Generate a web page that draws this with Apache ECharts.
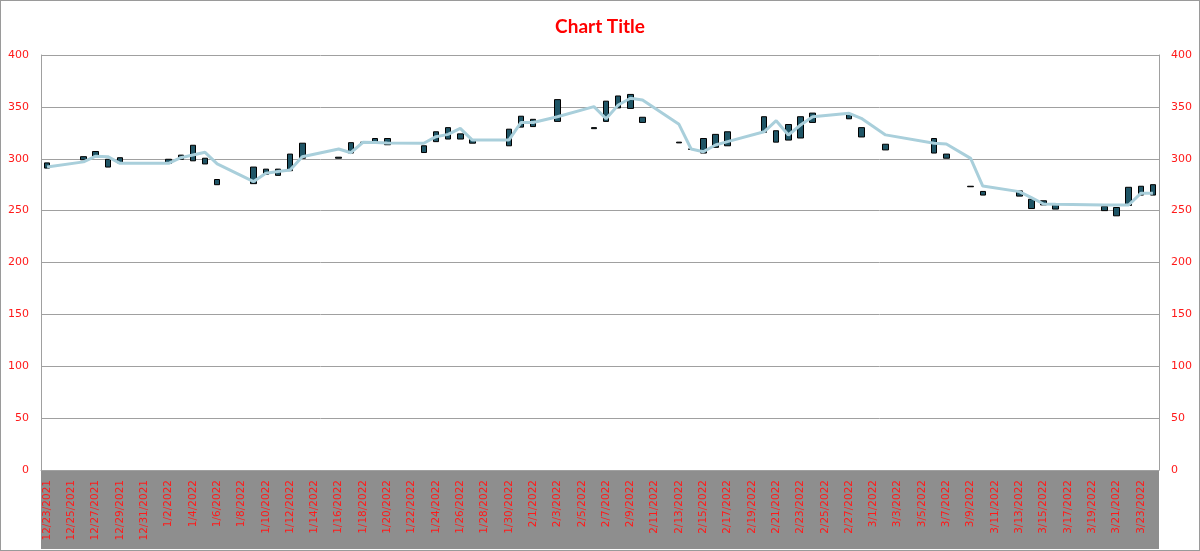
<!DOCTYPE html>
<html>
<head>
<meta charset="utf-8">
<script src="https://cdn.jsdelivr.net/npm/echarts@6/dist/echarts.min.js"></script>
<style>
  html, body { margin: 0; padding: 0; background: #fff; }
  #wrap { position: relative; width: 1200px; height: 551px; }
  #band { position: absolute; left: 41px; top: 470px; width: 1118px; height: 79px; background: #8E8E8E; }
  #frame { position: absolute; left: 0; top: 0; width: 1198px; height: 549px; border: 1px solid #9a9a9a; }
  #chart { position: absolute; left: 0; top: 0; width: 1200px; height: 551px; }
</style>
</head>
<body>
<div id="wrap">
  <div id="band"></div>
  <div id="frame"></div>
  <div id="chart"></div>
</div>
<script>
// Category axis: every calendar day
const categories = [
  '12/23/2021','12/24/2021','12/25/2021','12/26/2021','12/27/2021','12/28/2021','12/29/2021','12/30/2021','12/31/2021',
  '1/1/2022','1/2/2022','1/3/2022','1/4/2022','1/5/2022','1/6/2022','1/7/2022','1/8/2022','1/9/2022','1/10/2022',
  '1/11/2022','1/12/2022','1/13/2022','1/14/2022','1/15/2022','1/16/2022','1/17/2022','1/18/2022','1/19/2022','1/20/2022',
  '1/21/2022','1/22/2022','1/23/2022','1/24/2022','1/25/2022','1/26/2022','1/27/2022','1/28/2022','1/29/2022','1/30/2022','1/31/2022',
  '2/1/2022','2/2/2022','2/3/2022','2/4/2022','2/5/2022','2/6/2022','2/7/2022','2/8/2022','2/9/2022','2/10/2022',
  '2/11/2022','2/12/2022','2/13/2022','2/14/2022','2/15/2022','2/16/2022','2/17/2022','2/18/2022','2/19/2022','2/20/2022',
  '2/21/2022','2/22/2022','2/23/2022','2/24/2022','2/25/2022','2/26/2022','2/27/2022','2/28/2022',
  '3/1/2022','3/2/2022','3/3/2022','3/4/2022','3/5/2022','3/6/2022','3/7/2022','3/8/2022','3/9/2022','3/10/2022',
  '3/11/2022','3/12/2022','3/13/2022','3/14/2022','3/15/2022','3/16/2022','3/17/2022','3/18/2022','3/19/2022','3/20/2022',
  '3/21/2022','3/22/2022','3/23/2022','3/24/2022'
];

// Trading days with data
const tradeDates = [
  '12/23/2021','12/26/2021','12/27/2021','12/28/2021','12/29/2021',
  '1/2/2022','1/3/2022','1/4/2022','1/5/2022','1/6/2022',
  '1/9/2022','1/10/2022','1/11/2022','1/12/2022','1/13/2022',
  '1/16/2022','1/17/2022','1/18/2022','1/19/2022','1/20/2022',
  '1/23/2022','1/24/2022','1/25/2022','1/26/2022','1/27/2022',
  '1/30/2022','1/31/2022','2/1/2022','2/3/2022',
  '2/6/2022','2/7/2022','2/8/2022','2/9/2022','2/10/2022',
  '2/13/2022','2/14/2022','2/15/2022','2/16/2022','2/17/2022',
  '2/20/2022','2/21/2022','2/22/2022','2/23/2022','2/24/2022',
  '2/27/2022','2/28/2022','3/2/2022',
  '3/6/2022','3/7/2022','3/9/2022','3/10/2022',
  '3/13/2022','3/14/2022','3/15/2022','3/16/2022',
  '3/20/2022','3/21/2022','3/22/2022','3/23/2022','3/24/2022'
];

const openVals = [
  291, 299, 302, 299.5, 301,
  295.5, 299.5, 298, 300.5, 280,
  276, 285, 284, 288.5, 300.5,
  301.5, 305.5, 315, 315, 319.5,
  312.5, 316.5, 319, 324, 318.5,
  312.5, 330.5, 338, 336,
  330, 336, 349, 348.5, 340,
  316, 309.5, 305.5, 311, 312.5,
  325.5, 327, 318, 320, 335,
  343, 330, 314,
  319.5, 304.5, 273.5, 268.5,
  269, 261, 259.5, 255.5,
  254, 253, 255, 265, 265
];

const closeVals = [
  296, 302, 307, 292, 296,
  299.5, 303.5, 313, 295, 275,
  292, 290, 290, 304.5, 315,
  300.5, 315.5, 316, 319.5, 313.5,
  306, 326, 330, 319, 315,
  328.5, 341, 331, 357,
  329, 355.5, 360.5, 362, 335,
  315.3, 309, 319.5, 323.5, 326,
  340.5, 316, 333, 340.5, 344,
  338.5, 321, 308.5,
  305.5, 300.5, 273, 265,
  264, 252, 255.5, 251.5,
  250, 245, 272.5, 273.5, 275
];

// Trend line (moving average) values at each trading day
const lineVals = [
  292, 297, 302.5, 302, 295.6,
  295.6, 301, 303.6, 306.2, 295,
  278, 286, 287.7, 289.2, 302,
  309.4, 305.8, 315.9, 315.7, 315.2,
  314.9, 321.3, 323.5, 329.3, 318,
  318, 335, 335, 340.5,
  350.2, 338.5, 351.8, 358.3, 356.6,
  333.2, 309.4, 306.8, 313.3, 316.5,
  326, 336.7, 322.9, 332.5, 340.5,
  343.8, 339, 323,
  315, 314.2, 300.4, 273.7,
  268.3, 262.5, 256.4, 256.1,
  255.4, 255.4, 255.4, 266.7, 266.7
];

const yTicks = [0, 50, 100, 150, 200, 250, 300, 350, 400];

const candleData = tradeDates.map((d, i) => {
  const o = openVals[i], c = closeVals[i];
  return [d, o, c, Math.min(o, c), Math.max(o, c)];
});
const lineData = tradeDates.map((d, i) => [d, lineVals[i]]);

const chart = echarts.init(document.getElementById('chart'), null, { renderer: 'canvas' });
const red = '#FF1A1A';
const gridGray = '#A0A0A0';
const labelFont = 'DejaVu Sans';

chart.setOption({
  animation: false,
  backgroundColor: 'transparent',
  title: {
    text: 'Chart Title',
    left: 'center',
    top: 12,
    textStyle: { color: '#FF0000', fontFamily: 'Lato', fontWeight: 'bold', fontSize: 19 }
  },
  grid: { left: 41, top: 55, width: 1118, height: 415, containLabel: false },
  xAxis: {
    type: 'category',
    data: categories,
    boundaryGap: true,
    axisLine: { show: true, lineStyle: { color: gridGray, width: 1 } },
    axisTick: { show: false },
    axisLabel: {
      interval: 1,
      rotate: 90,
      margin: 10,
      color: red,
      fontFamily: labelFont,
      fontSize: 10.5
    },
    splitLine: { show: false }
  },
  yAxis: [
    {
      type: 'value',
      min: yTicks[0], max: yTicks[yTicks.length - 1], interval: 50,
      position: 'left',
      axisLine: { show: true, lineStyle: { color: gridGray } },
      axisTick: { show: false },
      axisLabel: { color: red, fontFamily: labelFont, fontSize: 11, margin: 12 },
      splitLine: { show: true, lineStyle: { color: gridGray, width: 1 } }
    },
    {
      type: 'value',
      min: yTicks[0], max: yTicks[yTicks.length - 1], interval: 50,
      position: 'right',
      axisLine: { show: true, lineStyle: { color: gridGray } },
      axisTick: { show: false },
      axisLabel: { color: red, fontFamily: labelFont, fontSize: 11, margin: 12 },
      splitLine: { show: false }
    }
  ],
  series: [
    {
      type: 'candlestick',
      yAxisIndex: 0,
      data: candleData,
      encode: { x: 0, y: [1, 2, 3, 4] },
      barWidth: 6,
      itemStyle: {
        color: '#1F5566',
        color0: '#1F5566',
        borderColor: '#000000',
        borderColor0: '#000000',
        borderWidth: 1
      },
      z: 2
    },
    {
      type: 'line',
      yAxisIndex: 0,
      data: lineData,
      symbol: 'none',
      lineStyle: { color: '#A9CFDB', width: 3 },
      z: 3
    }
  ]
});
</script>
</body>
</html>
